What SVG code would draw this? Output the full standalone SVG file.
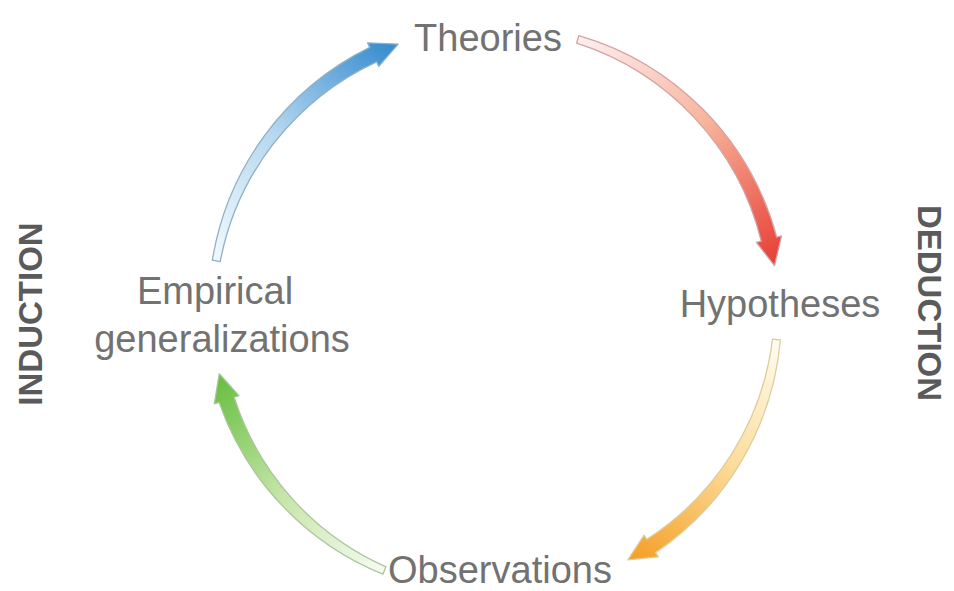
<svg xmlns="http://www.w3.org/2000/svg" width="954" height="591" viewBox="0 0 954 591">
<style>
.lbl{font-family:"Liberation Sans",Arial,sans-serif;font-size:38px;fill:#727272;text-anchor:middle}
.side{font-family:"Liberation Sans",Arial,sans-serif;font-size:33px;font-weight:bold;fill:#5a5a5a;text-anchor:middle}
.arr{stroke-width:1.3;stroke-linejoin:round}
</style>
<defs>
<linearGradient id="gB" gradientUnits="userSpaceOnUse" x1="283" y1="0" x2="150" y2="240">
<stop offset="0" stop-color="#f2f9fd"/><stop offset="0.5" stop-color="#b5d7ef"/><stop offset="1" stop-color="#3a8ed0"/>
</linearGradient>
<linearGradient id="gR" gradientUnits="userSpaceOnUse" x1="283" y1="0" x2="130" y2="250">
<stop offset="0" stop-color="#fdeef0"/><stop offset="0.5" stop-color="#f8b49c"/><stop offset="1" stop-color="#e8443a"/>
</linearGradient>
<linearGradient id="gO" gradientUnits="userSpaceOnUse" x1="283" y1="0" x2="165" y2="230">
<stop offset="0" stop-color="#fffcef"/><stop offset="0.5" stop-color="#fcdc9a"/><stop offset="1" stop-color="#f5a12b"/>
</linearGradient>
<linearGradient id="gG" gradientUnits="userSpaceOnUse" x1="283" y1="0" x2="170" y2="225">
<stop offset="0" stop-color="#f6fbf2"/><stop offset="0.5" stop-color="#c4e5a6"/><stop offset="1" stop-color="#6abf43"/>
</linearGradient>
</defs>
<rect width="954" height="591" fill="#ffffff"/>
<g id="connectors">
<g id="arrow-induction-theories" transform="translate(495,310) rotate(190)">
<path class="arr" fill="url(#gB)" stroke="#8fb0c6" d="M287,0 A289,289 0 0 1 168.98,236.91 L171.89,240.97 L141.5,245.08 L156.79,219.81 L159.69,223.88 A277,277 0 0 0 279,0 Z"/>
</g>
<g id="arrow-theories-hypotheses" transform="translate(495,310) rotate(287)">
<path class="arr" fill="url(#gR)" stroke="#d3a3a3" d="M287,0 A289,289 0 0 1 152.05,248.11 L154.66,252.37 L124.07,254.36 L141.08,230.20 L143.69,234.47 A277,277 0 0 0 279,0 Z"/>
</g>
<g id="arrow-hypotheses-observations" transform="translate(495,310) rotate(6)">
<path class="arr" fill="url(#gO)" stroke="#dfcc9c" d="M287,0 A289,289 0 0 1 185.11,224.54 L188.29,228.39 L158.25,234.61 L171.75,208.33 L174.93,212.19 A277,277 0 0 0 279,0 Z"/>
</g>
<g id="arrow-observations-empirical" transform="translate(495,310) rotate(113)">
<path class="arr" fill="url(#gG)" stroke="#a9c69c" d="M287,0 A289,289 0 0 1 192.82,217.96 L196.13,221.70 L166.35,228.95 L178.90,202.23 L182.22,205.98 A277,277 0 0 0 279,0 Z"/>
</g>
</g>
<g id="node-theories"><text class="lbl" x="488" y="51">Theories</text></g>
<g id="node-hypotheses"><text class="lbl" x="780" y="317">Hypotheses</text></g>
<g id="node-observations"><text class="lbl" x="500" y="583">Observations</text></g>
<g id="node-empirical"><text class="lbl" x="215" y="304">Empirical</text><text class="lbl" x="222" y="352" font-size="35">generalizations</text></g>
<g id="label-induction"><text class="side" transform="translate(42,314) rotate(-90)">INDUCTION</text></g>
<g id="label-deduction"><text class="side" transform="translate(918,303) rotate(90)">DEDUCTION</text></g>
</svg>
